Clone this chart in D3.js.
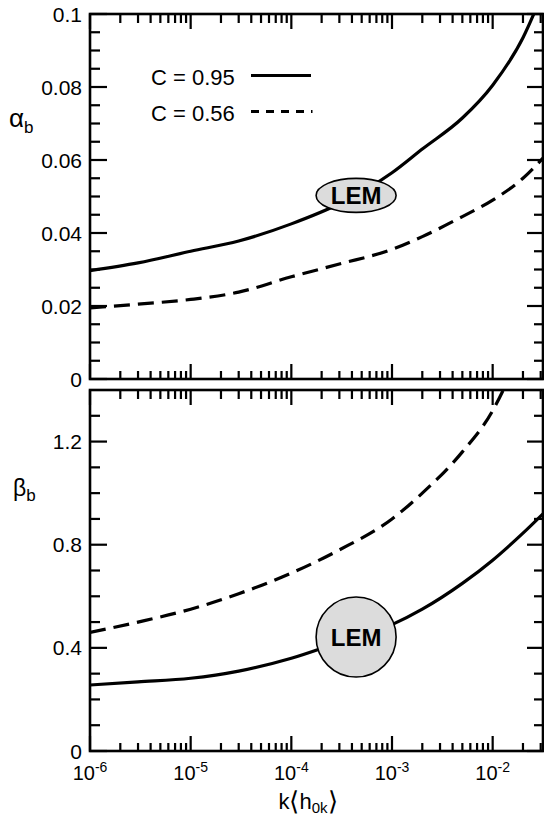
<!DOCTYPE html>
<html>
<head>
<meta charset="utf-8">
<script src="https://cdn.jsdelivr.net/npm/d3@7"></script>
<style>
  body { margin: 0; background: #fff; }
  svg { display: block; font-family: "Liberation Sans", Arial, Helvetica, sans-serif; }
</style>
</head>
<body>
<svg id="chart" width="544" height="817"></svg>
<script>
// data
const kValues  = [1e-6, 3e-6, 1e-5, 3e-5, 1e-4, 3e-4, 1e-3, 2e-3, 5e-3, 1e-2, 2e-2, 3.16e-2];
const alpha095 = [0.0297, 0.0318, 0.0350, 0.0378, 0.0425, 0.048, 0.0565, 0.063, 0.0715, 0.0805, 0.0935, 0.106];
const alpha056 = [0.0195, 0.0205, 0.0218, 0.0238, 0.028, 0.0315, 0.0355, 0.039, 0.0445, 0.049, 0.055, 0.0605];
const beta095  = [0.256, 0.268, 0.282, 0.31, 0.36, 0.422, 0.49, 0.55, 0.65, 0.74, 0.845, 0.92];
const beta056  = [0.46, 0.50, 0.55, 0.61, 0.69, 0.78, 0.90, 1.0, 1.16, 1.32, 1.58, 1.8];

const legendLabels = ["C = 0.95", "C = 0.56"];
const lemK = 4.4e-4;          // position of the LEM marker
const lemAlpha = 0.0503;
const lemBeta = 0.442;

const xMajor = [1e-6, 1e-5, 1e-4, 1e-3, 1e-2];
const xMajorExp = ["-6", "-5", "-4", "-3", "-2"];
const xMinor = [2e-6, 3e-6, 4e-6, 5e-6, 6e-6, 7e-6, 8e-6, 9e-6,
                2e-5, 3e-5, 4e-5, 5e-5, 6e-5, 7e-5, 8e-5, 9e-5,
                2e-4, 3e-4, 4e-4, 5e-4, 6e-4, 7e-4, 8e-4, 9e-4,
                2e-3, 3e-3, 4e-3, 5e-3, 6e-3, 7e-3, 8e-3, 9e-3,
                2e-2, 3e-2];
const alphaMajor = [0, 0.02, 0.04, 0.06, 0.08, 0.1];
const alphaMinor = [0.005, 0.01, 0.015, 0.025, 0.03, 0.035, 0.045, 0.05, 0.055,
                    0.065, 0.07, 0.075, 0.085, 0.09, 0.095];
const betaMajor = [0, 0.4, 0.8, 1.2];
const betaMinor = [0.1, 0.2, 0.3, 0.5, 0.6, 0.7, 0.9, 1.0, 1.1, 1.3];

const svg = d3.select("#chart");
const left = 90, right = 543;

const x = d3.scaleLog().domain([1e-6, Math.pow(10, -1.5)]).range([left, right]);

const panels = [
  { top: 14, bottom: 379, domain: [0, 0.1], major: alphaMajor, minor: alphaMinor,
    fmt: d => d === 0 ? "0" : String(+d.toFixed(2)),
    solid: alpha095, dashed: alpha056, lem: lemAlpha, shape: "ellipse" },
  { top: 390, bottom: 751, domain: [0, 1.4], major: betaMajor, minor: betaMinor,
    fmt: d => d === 0 ? "0" : String(+d.toFixed(1)),
    solid: beta095, dashed: beta056, lem: lemBeta, shape: "circle" }
];
panels.forEach(p => { p.y = d3.scaleLinear().domain(p.domain).range([p.bottom, p.top]); });

panels.forEach((p, i) => {
  const y = p.y;
  const h = p.bottom - p.top;

  // frame
  svg.append("rect").attr("x", left).attr("y", p.top)
    .attr("width", right - left).attr("height", h)
    .style("fill", "none").style("stroke", "#000").style("stroke-width", 2.6);

  // y tick labels
  svg.append("g").selectAll("text").data(p.major).join("text")
    .attr("x", left - 8).attr("y", d => y(d) + 7.5)
    .attr("text-anchor", "end").attr("font-size", 21)
    .text(p.fmt);

  // curves, clipped to the panel
  const clip = svg.append("clipPath").attr("id", "clip" + i);
  clip.append("rect").attr("x", left).attr("y", p.top).attr("width", right - left).attr("height", h);

  const line = vals => d3.line()
    .x((d, j) => x(kValues[j]))
    .y(d => y(d))
    .curve(d3.curveMonotoneX)(vals);

  const curves = svg.append("g").attr("clip-path", `url(#clip${i})`);
  curves.append("path").attr("d", line(p.solid))
    .attr("fill", "none").attr("stroke", "#000").attr("stroke-width", 3.2);
  curves.append("path").attr("d", line(p.dashed))
    .attr("fill", "none").attr("stroke", "#000").attr("stroke-width", 3.2)
    .attr("stroke-dasharray", "16,8");

  // LEM marker
  const cx = x(lemK), cy = y(p.lem);
  if (p.shape === "ellipse") {
    svg.append("ellipse").attr("cx", cx).attr("cy", cy).attr("rx", 40).attr("ry", 17)
      .attr("fill", "#dcdcdc").attr("stroke", "#000").attr("stroke-width", 1.6);
  } else {
    svg.append("circle").attr("cx", cx).attr("cy", cy).attr("r", 40)
      .attr("fill", "#dcdcdc").attr("stroke", "#000").attr("stroke-width", 1.6);
  }
  svg.append("text").attr("x", cx).attr("y", cy + 8.5)
    .attr("text-anchor", "middle").attr("font-size", 24).attr("font-weight", "bold")
    .text("LEM");
});

// x tick labels (10^n)
const xl = svg.append("g").attr("font-size", 20);
xMajor.forEach((v, i) => {
  const t = xl.append("text").attr("x", x(v)).attr("y", 780).attr("text-anchor", "middle");
  t.append("tspan").text("10");
  t.append("tspan").attr("dy", -8).attr("font-size", 14).text(xMajorExp[i]);
});

// x axis title
const xt = svg.append("text").attr("x", 308).attr("y", 809).attr("text-anchor", "middle")
  .attr("font-size", 22);
xt.append("tspan").text("k");
xt.append("tspan").attr("font-size", 26).attr("dy", 1).text("\u27E8");
xt.append("tspan").attr("dy", -1).text("h");
xt.append("tspan").attr("font-size", 15).attr("dy", 4).text("0k");
xt.append("tspan").attr("font-size", 26).attr("dy", -3).text("\u27E9");

// y axis titles
const ya = svg.append("text").attr("x", 9).attr("y", 127).attr("font-size", 26);
ya.append("tspan").text("\u03B1");
ya.append("tspan").attr("font-size", 17).attr("dy", 6).text("b");
const yb = svg.append("text").attr("x", 13).attr("y", 496).attr("font-size", 23);
yb.append("tspan").text("\u03B2");
yb.append("tspan").attr("font-size", 17).attr("dy", 5).text("b");

// legend
const legY = [75.5, 111.5];
legendLabels.forEach((lab, i) => {
  svg.append("text").attr("x", 151).attr("y", legY[i] + 9.5).attr("font-size", 22).text(lab);
  svg.append("line").attr("x1", 251).attr("x2", i === 0 ? 311 : 312.5)
    .attr("y1", legY[i]).attr("y2", legY[i])
    .attr("stroke", "#000").attr("stroke-width", 3)
    .attr("stroke-dasharray", i === 0 ? null : "8,7");
});

// inward tick marks as small filled rects, positions from the scales
const tw = 2.2;
panels.forEach(p => {
  const y = p.y;
  const specs = [];
  xMinor.forEach(v => { specs.push({ x: x(v) - tw / 2, y: p.bottom - 8, w: tw, h: 8 });
                        specs.push({ x: x(v) - tw / 2, y: p.top, w: tw, h: 9 }); });
  xMajor.forEach(v => { specs.push({ x: x(v) - tw / 2, y: p.bottom - 15, w: tw, h: 15 });
                        specs.push({ x: x(v) - tw / 2, y: p.top, w: tw, h: 15 }); });
  p.minor.forEach(v => { specs.push({ x: left, y: y(v) - tw / 2, w: 10, h: tw });
                         specs.push({ x: right - 9, y: y(v) - tw / 2, w: 9, h: tw }); });
  p.major.forEach(v => { specs.push({ x: left, y: y(v) - tw / 2, w: 17, h: tw });
                         specs.push({ x: right - 16, y: y(v) - tw / 2, w: 16, h: tw }); });
  svg.selectAll(null).data(specs).enter().append("rect")
    .attr("x", d => d.x).attr("y", d => d.y)
    .attr("width", d => d.w).attr("height", d => d.h)
    .style("fill", "#000");
});
</script>
</body>
</html>
